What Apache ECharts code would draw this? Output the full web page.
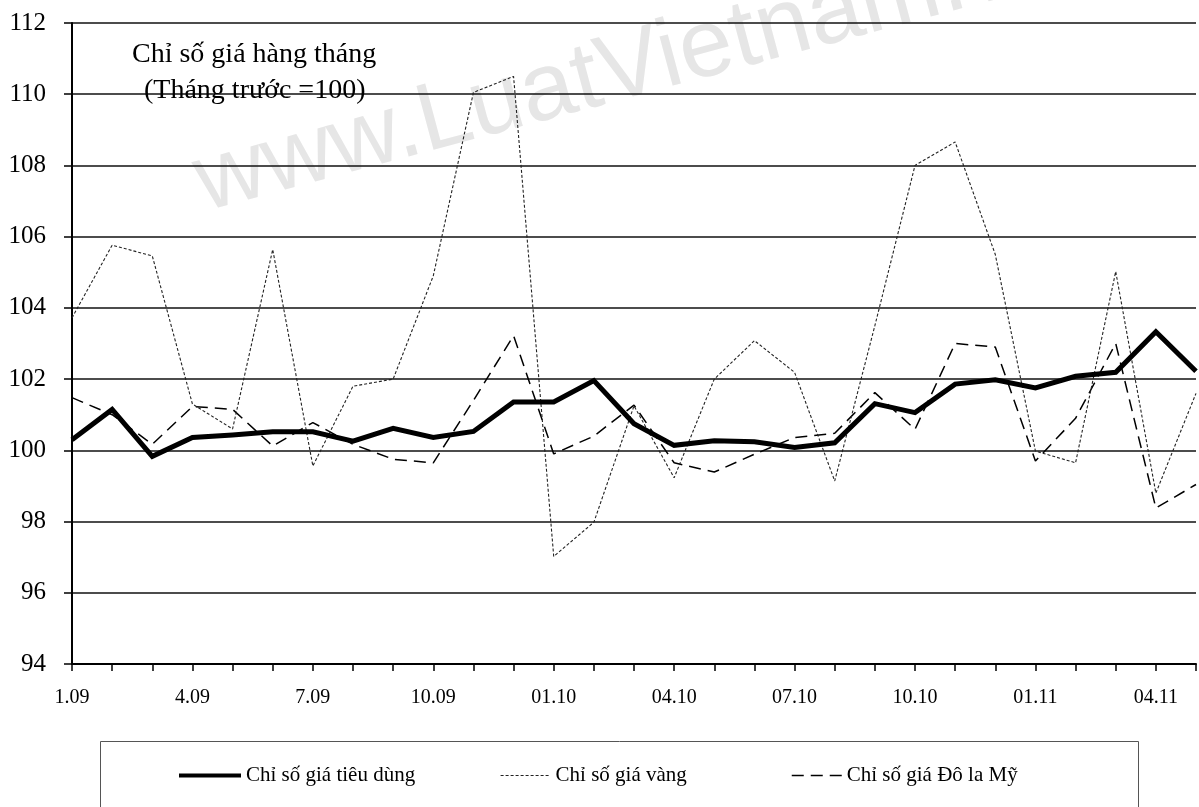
<!DOCTYPE html>
<html>
<head>
<meta charset="utf-8">
<script src="https://cdn.jsdelivr.net/npm/echarts@6/dist/echarts.min.js"></script>
<style>
html,body{margin:0;padding:0;background:#fff;}
#chart{width:1199px;height:807px;}
</style>
</head>
<body>
<div id="chart"></div>
<script>
// Months (01.2009 - 05.2011)
var categories = ['1.09','2.09','3.09','4.09','5.09','6.09','7.09','8.09','9.09','10.09','11.09','12.09',
  '01.10','02.10','03.10','04.10','05.10','06.10','07.10','08.10','09.10','10.10','11.10','12.10',
  '01.11','02.11','03.11','04.11','05.11'];
var shownLabels = ['1.09','4.09','7.09','10.09','01.10','04.10','07.10','10.10','01.11','04.11'];
// Chỉ số giá tiêu dùng (CPI)
var cpi = [100.3,101.15,99.83,100.36,100.43,100.52,100.52,100.26,100.62,100.36,100.53,101.36,
  101.36,101.96,100.75,100.14,100.27,100.24,100.08,100.21,101.31,101.06,101.86,101.98,
  101.75,102.08,102.19,103.33,102.22];
// Chỉ số giá vàng
var gold = [103.72,105.76,105.46,101.3,100.6,105.64,99.56,101.8,102.0,104.9,110.05,110.5,
  97.02,97.98,101.25,99.23,102.0,103.08,102.19,99.14,103.5,108.0,108.66,105.5,
  99.98,99.65,105.02,98.8,101.6];
// Chỉ số giá Đô la Mỹ
var usd = [101.48,101.0,100.17,101.23,101.15,100.12,100.78,100.17,99.75,99.65,101.4,103.22,
  99.9,100.4,101.27,99.65,99.39,99.89,100.36,100.48,101.62,100.59,103.0,102.9,
  99.7,100.9,103.0,98.38,99.04];
var yMin = 94, yMax = 112, yStep = 2;
var names = ['Chỉ số giá tiêu dùng','Chỉ số giá vàng','Chỉ số giá Đô la Mỹ'];

var serif = '"Liberation Serif","DejaVu Serif",serif';
var chart = echarts.init(document.getElementById('chart'), null, {renderer:'canvas'});
var legendText = {fontFamily: serif, fontSize: 21, color: '#000'};
var hideSym = {opacity: 0};
chart.setOption({
  animation: false,
  backgroundColor: '#fff',
  graphic: [
    {type:'text', x:210, y:232, rotation: 15*Math.PI/180, z:-10, silent:true,
     style:{text:'www.LuatVietnam.vn', font:'96px "Liberation Sans", Arial, sans-serif', fill:'#e6e6e6', textVerticalAlign:'bottom'}},
    {type:'rect', shape:{x:100.5, y:741.5, width:1038, height:100}, style:{fill:'none', stroke:'#555', lineWidth:1}, z:-5, silent:true}
  ],
  title: [
    {text:'Chỉ số giá hàng tháng', left:127, top:36, textStyle:{fontFamily:serif, fontSize:28, fontWeight:'normal', color:'#000'}},
    {text:'(Tháng trước =100)', left:139, top:72, textStyle:{fontFamily:serif, fontSize:28, fontWeight:'normal', color:'#000'}}
  ],
  legend: [
    {data:[{name:names[0], lineStyle:{width:4}, itemStyle:hideSym}], left:172, top:760, itemWidth:62, itemHeight:22, textStyle:legendText, selectedMode:false},
    {data:[{name:names[1], lineStyle:{width:1.2}, itemStyle:hideSym}], left:495, top:760, itemWidth:50, itemHeight:22, textStyle:legendText, selectedMode:false},
    {data:[{name:names[2], lineStyle:{width:1.5}, itemStyle:hideSym}], left:786, top:760, itemWidth:50, itemHeight:22, textStyle:legendText, selectedMode:false}
  ],
  grid: {left:72, top:23, width:1128, bottom:143, containLabel:false},
  xAxis: {
    type:'category', data:categories, boundaryGap:false,
    axisLine:{lineStyle:{color:'#000', width:2}},
    axisTick:{show:true, interval:0, length:7, lineStyle:{color:'#000', width:1.5}},
    axisLabel:{interval:0, margin:24, fontFamily:serif, fontSize:20, color:'#000',
      formatter:function(v){ return shownLabels.indexOf(v) >= 0 ? v : ''; }},
    splitLine:{show:false}
  },
  yAxis: {
    type:'value', min:yMin, max:yMax, interval:yStep,
    axisLine:{show:true, lineStyle:{color:'#000', width:2}},
    axisTick:{show:true, inside:false, length:8, lineStyle:{color:'#000', width:1.5}},
    axisLabel:{margin:26, fontFamily:serif, fontSize:25, color:'#000'},
    splitLine:{show:true, lineStyle:{color:'#111', width:1.5}}
  },
  series: [
    {name:names[0], type:'line', data:cpi, symbol:'none', z:5,
     lineStyle:{color:'#000', width:5, join:'miter'}},
    {name:names[1], type:'line', data:gold, symbol:'none', z:4,
     lineStyle:{color:'#222', width:1.1, type:[3,2]}},
    {name:names[2], type:'line', data:usd, symbol:'none', z:3,
     lineStyle:{color:'#000', width:1.5, type:[12,7]}}
  ]
});
</script>
</body>
</html>
